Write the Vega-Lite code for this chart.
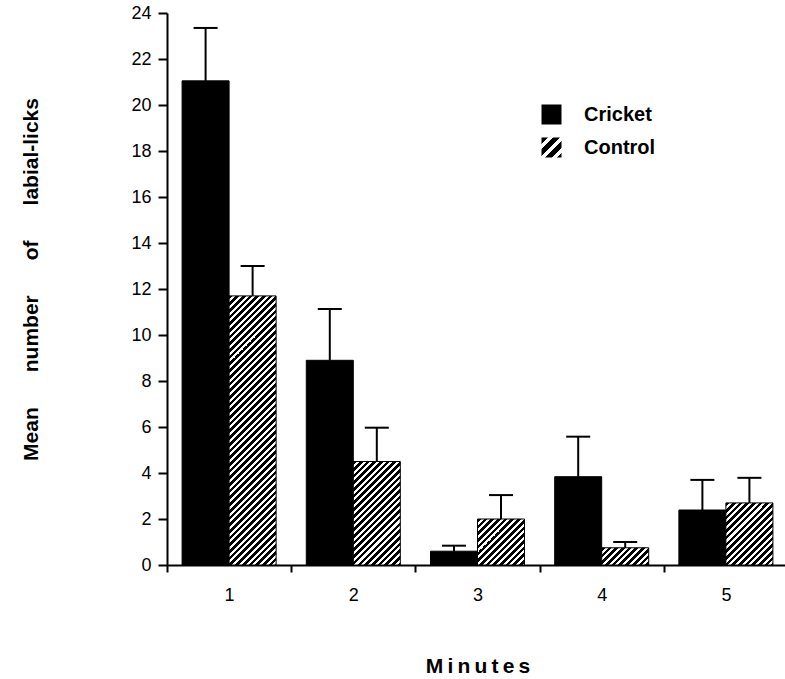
{
  "$schema": "https://vega.github.io/schema/vega-lite/v6.json",
  "autosize": "none",
  "padding": {"left": 167, "top": 13, "right": 0, "bottom": 114},
  "width": 621,
  "height": 552,
  "background": "white",
  "config": {
    "view": {"stroke": null},
    "axis": {"labelFont": "Liberation Sans", "labelFontSize": 18, "labelColor": "black", "domainColor": "black", "domainWidth": 2, "tickColor": "black", "tickWidth": 2, "grid": false, "titleColor": "black", "titleFont": "Liberation Sans", "titleFontWeight": "bold", "titleFontSize": 21}
  },
  "params": [
    {"name": "hatch", "value": [
      {"offset":0,"color":"#000"},{"offset":0.011,"color":"#000"},{"offset":0.011,"color":"#fff"},{"offset":0.02,"color":"#fff"},
      {"offset":0.02,"color":"#000"},{"offset":0.031,"color":"#000"},{"offset":0.031,"color":"#fff"},{"offset":0.04,"color":"#fff"},
      {"offset":0.04,"color":"#000"},{"offset":0.051,"color":"#000"},{"offset":0.051,"color":"#fff"},{"offset":0.06,"color":"#fff"},
      {"offset":0.06,"color":"#000"},{"offset":0.071,"color":"#000"},{"offset":0.071,"color":"#fff"},{"offset":0.08,"color":"#fff"},
      {"offset":0.08,"color":"#000"},{"offset":0.091,"color":"#000"},{"offset":0.091,"color":"#fff"},{"offset":0.1,"color":"#fff"},
      {"offset":0.1,"color":"#000"},{"offset":0.111,"color":"#000"},{"offset":0.111,"color":"#fff"},{"offset":0.12,"color":"#fff"},
      {"offset":0.12,"color":"#000"},{"offset":0.131,"color":"#000"},{"offset":0.131,"color":"#fff"},{"offset":0.14,"color":"#fff"},
      {"offset":0.14,"color":"#000"},{"offset":0.151,"color":"#000"},{"offset":0.151,"color":"#fff"},{"offset":0.16,"color":"#fff"},
      {"offset":0.16,"color":"#000"},{"offset":0.171,"color":"#000"},{"offset":0.171,"color":"#fff"},{"offset":0.18,"color":"#fff"},
      {"offset":0.18,"color":"#000"},{"offset":0.191,"color":"#000"},{"offset":0.191,"color":"#fff"},{"offset":0.2,"color":"#fff"},
      {"offset":0.2,"color":"#000"},{"offset":0.211,"color":"#000"},{"offset":0.211,"color":"#fff"},{"offset":0.22,"color":"#fff"},
      {"offset":0.22,"color":"#000"},{"offset":0.231,"color":"#000"},{"offset":0.231,"color":"#fff"},{"offset":0.24,"color":"#fff"},
      {"offset":0.24,"color":"#000"},{"offset":0.251,"color":"#000"},{"offset":0.251,"color":"#fff"},{"offset":0.26,"color":"#fff"},
      {"offset":0.26,"color":"#000"},{"offset":0.271,"color":"#000"},{"offset":0.271,"color":"#fff"},{"offset":0.28,"color":"#fff"},
      {"offset":0.28,"color":"#000"},{"offset":0.291,"color":"#000"},{"offset":0.291,"color":"#fff"},{"offset":0.3,"color":"#fff"},
      {"offset":0.3,"color":"#000"},{"offset":0.311,"color":"#000"},{"offset":0.311,"color":"#fff"},{"offset":0.32,"color":"#fff"},
      {"offset":0.32,"color":"#000"},{"offset":0.331,"color":"#000"},{"offset":0.331,"color":"#fff"},{"offset":0.34,"color":"#fff"},
      {"offset":0.34,"color":"#000"},{"offset":0.351,"color":"#000"},{"offset":0.351,"color":"#fff"},{"offset":0.36,"color":"#fff"},
      {"offset":0.36,"color":"#000"},{"offset":0.371,"color":"#000"},{"offset":0.371,"color":"#fff"},{"offset":0.38,"color":"#fff"},
      {"offset":0.38,"color":"#000"},{"offset":0.391,"color":"#000"},{"offset":0.391,"color":"#fff"},{"offset":0.4,"color":"#fff"},
      {"offset":0.4,"color":"#000"},{"offset":0.411,"color":"#000"},{"offset":0.411,"color":"#fff"},{"offset":0.42,"color":"#fff"},
      {"offset":0.42,"color":"#000"},{"offset":0.431,"color":"#000"},{"offset":0.431,"color":"#fff"},{"offset":0.44,"color":"#fff"},
      {"offset":0.44,"color":"#000"},{"offset":0.451,"color":"#000"},{"offset":0.451,"color":"#fff"},{"offset":0.46,"color":"#fff"},
      {"offset":0.46,"color":"#000"},{"offset":0.471,"color":"#000"},{"offset":0.471,"color":"#fff"},{"offset":0.48,"color":"#fff"},
      {"offset":0.48,"color":"#000"},{"offset":0.491,"color":"#000"},{"offset":0.491,"color":"#fff"},{"offset":0.5,"color":"#fff"},
      {"offset":0.5,"color":"#000"},{"offset":0.511,"color":"#000"},{"offset":0.511,"color":"#fff"},{"offset":0.52,"color":"#fff"},
      {"offset":0.52,"color":"#000"},{"offset":0.531,"color":"#000"},{"offset":0.531,"color":"#fff"},{"offset":0.54,"color":"#fff"},
      {"offset":0.54,"color":"#000"},{"offset":0.551,"color":"#000"},{"offset":0.551,"color":"#fff"},{"offset":0.56,"color":"#fff"},
      {"offset":0.56,"color":"#000"},{"offset":0.571,"color":"#000"},{"offset":0.571,"color":"#fff"},{"offset":0.58,"color":"#fff"},
      {"offset":0.58,"color":"#000"},{"offset":0.591,"color":"#000"},{"offset":0.591,"color":"#fff"},{"offset":0.6,"color":"#fff"},
      {"offset":0.6,"color":"#000"},{"offset":0.611,"color":"#000"},{"offset":0.611,"color":"#fff"},{"offset":0.62,"color":"#fff"},
      {"offset":0.62,"color":"#000"},{"offset":0.631,"color":"#000"},{"offset":0.631,"color":"#fff"},{"offset":0.64,"color":"#fff"},
      {"offset":0.64,"color":"#000"},{"offset":0.651,"color":"#000"},{"offset":0.651,"color":"#fff"},{"offset":0.66,"color":"#fff"},
      {"offset":0.66,"color":"#000"},{"offset":0.671,"color":"#000"},{"offset":0.671,"color":"#fff"},{"offset":0.68,"color":"#fff"},
      {"offset":0.68,"color":"#000"},{"offset":0.691,"color":"#000"},{"offset":0.691,"color":"#fff"},{"offset":0.7,"color":"#fff"},
      {"offset":0.7,"color":"#000"},{"offset":0.711,"color":"#000"},{"offset":0.711,"color":"#fff"},{"offset":0.72,"color":"#fff"},
      {"offset":0.72,"color":"#000"},{"offset":0.731,"color":"#000"},{"offset":0.731,"color":"#fff"},{"offset":0.74,"color":"#fff"},
      {"offset":0.74,"color":"#000"},{"offset":0.751,"color":"#000"},{"offset":0.751,"color":"#fff"},{"offset":0.76,"color":"#fff"},
      {"offset":0.76,"color":"#000"},{"offset":0.771,"color":"#000"},{"offset":0.771,"color":"#fff"},{"offset":0.78,"color":"#fff"},
      {"offset":0.78,"color":"#000"},{"offset":0.791,"color":"#000"},{"offset":0.791,"color":"#fff"},{"offset":0.8,"color":"#fff"},
      {"offset":0.8,"color":"#000"},{"offset":0.811,"color":"#000"},{"offset":0.811,"color":"#fff"},{"offset":0.82,"color":"#fff"},
      {"offset":0.82,"color":"#000"},{"offset":0.831,"color":"#000"},{"offset":0.831,"color":"#fff"},{"offset":0.84,"color":"#fff"},
      {"offset":0.84,"color":"#000"},{"offset":0.851,"color":"#000"},{"offset":0.851,"color":"#fff"},{"offset":0.86,"color":"#fff"},
      {"offset":0.86,"color":"#000"},{"offset":0.871,"color":"#000"},{"offset":0.871,"color":"#fff"},{"offset":0.88,"color":"#fff"},
      {"offset":0.88,"color":"#000"},{"offset":0.891,"color":"#000"},{"offset":0.891,"color":"#fff"},{"offset":0.9,"color":"#fff"},
      {"offset":0.9,"color":"#000"},{"offset":0.911,"color":"#000"},{"offset":0.911,"color":"#fff"},{"offset":0.92,"color":"#fff"},
      {"offset":0.92,"color":"#000"},{"offset":0.931,"color":"#000"},{"offset":0.931,"color":"#fff"},{"offset":0.94,"color":"#fff"},
      {"offset":0.94,"color":"#000"},{"offset":0.951,"color":"#000"},{"offset":0.951,"color":"#fff"},{"offset":0.96,"color":"#fff"},
      {"offset":0.96,"color":"#000"},{"offset":0.971,"color":"#000"},{"offset":0.971,"color":"#fff"},{"offset":0.98,"color":"#fff"},
      {"offset":0.98,"color":"#000"},{"offset":0.991,"color":"#000"},{"offset":0.991,"color":"#fff"},{"offset":1,"color":"#fff"}
    ]}
  ],
  "data": {"values": [
    {"minute": "1", "group": "Cricket", "mean": 21.05, "upper": 23.35},
    {"minute": "1", "group": "Control", "mean": 11.7, "upper": 13.0},
    {"minute": "2", "group": "Cricket", "mean": 8.9, "upper": 11.13},
    {"minute": "2", "group": "Control", "mean": 4.5, "upper": 5.97},
    {"minute": "3", "group": "Cricket", "mean": 0.6, "upper": 0.84},
    {"minute": "3", "group": "Control", "mean": 2.0, "upper": 3.04},
    {"minute": "4", "group": "Cricket", "mean": 3.84, "upper": 5.58},
    {"minute": "4", "group": "Control", "mean": 0.75, "upper": 1.0},
    {"minute": "5", "group": "Cricket", "mean": 2.39, "upper": 3.7},
    {"minute": "5", "group": "Control", "mean": 2.7, "upper": 3.79}
  ]},
  "encoding": {
    "x": {
      "field": "minute", "type": "nominal",
      "scale": {"paddingInner": 0, "paddingOuter": 0},
      "axis": {
        "labelAngle": 0, "tickSize": 7, "tickBand": "extent", "labelPadding": 14,
        "title": "M\u2009i\u2009n\u2009u\u2009t\u2009e\u2009s", "titleFontSize": 21, "titleY": 107, "titleBaseline": "alphabetic"
      }
    },
    "xOffset": {"field": "group", "type": "nominal", "scale": {"domain": ["Cricket", "Control"], "paddingInner": 0, "paddingOuter": 0.321}}
  },
  "layer": [
    {
      "mark": {
        "type": "bar", "stroke": "black", "strokeWidth": 1,
        "fill": {"expr": "(datum.group || datum.value) === 'Cricket' ? 'black' : {gradient: 'linear', x1: 0, y1: 0, x2: isValid(datum.mean) ? 335*bandwidth('xOffset')/(pow(bandwidth('xOffset'),2)+pow(scale('y',0)-scale('y',datum.mean),2)) : 15, y2: isValid(datum.mean) ? 335*(scale('y',0)-scale('y',datum.mean))/(pow(bandwidth('xOffset'),2)+pow(scale('y',0)-scale('y',datum.mean),2)) : 15, stops: hatch}"}
      },
      "encoding": {
        "y": {
          "field": "mean", "type": "quantitative",
          "scale": {"domain": [0, 24], "nice": false},
          "axis": {
            "values": [0,1,2,3,4,5,6,7,8,9,10,11,12,13,14,15,16,17,18,19,20,21,22,23,24],
            "labelExpr": "datum.value % 2 === 0 ? datum.label : ''",
            "tickSize": {"condition": {"test": "datum.value % 2 === 1", "value": 5}, "value": 9},
            "labelPadding": 7,
            "title": "Mean\u00a0\u00a0\u00a0\u00a0\u00a0\u00a0number\u00a0\u00a0\u00a0\u00a0\u00a0\u00a0of\u00a0\u00a0\u00a0\u00a0\u00a0\u00a0labial-licks",
            "titleX": -130, "titleY": 266, "titleBaseline": "alphabetic", "titleAngle": 270
          }
        },
        "opacity": {
          "field": "group", "type": "ordinal",
          "scale": {"domain": ["Cricket", "Control"], "range": [1, 1]},
          "legend": {
            "title": null, "orient": "none", "legendX": 374, "legendY": 91, "padding": 0,
            "symbolType": "square", "symbolSize": 400, "symbolStrokeColor": "black", "symbolStrokeWidth": 1,
            "labelFont": "Liberation Sans", "labelFontSize": 20, "labelFontWeight": "bold", "labelColor": "black",
            "labelOffset": 22, "rowPadding": 8
          }
        }
      }
    },
    {
      "mark": {"type": "rule", "opacity": 1, "color": "black", "strokeWidth": 2},
      "encoding": {
        "y": {"field": "mean", "type": "quantitative"},
        "y2": {"field": "upper"}
      }
    },
    {
      "mark": {"type": "tick", "opacity": 1, "color": "black", "size": 24, "thickness": 2},
      "encoding": {
        "y": {"field": "upper", "type": "quantitative"}
      }
    }
  ]
}
